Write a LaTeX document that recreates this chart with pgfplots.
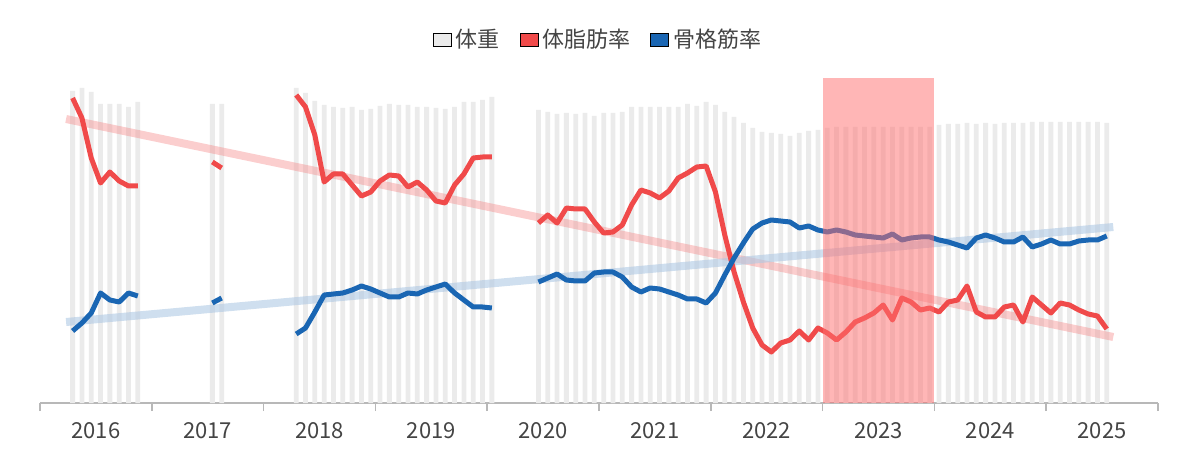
\documentclass[border=0pt]{standalone}
\usepackage{pgfplots}
\pgfplotsset{compat=1.18}
\usepackage{fontspec}
\setmainfont{Noto Sans CJK JP}
\definecolor{rd}{HTML}{F04A4A}
\definecolor{bl}{HTML}{1A66B3}
\definecolor{gb}{HTML}{EBEBEB}
\definecolor{tx}{HTML}{444444}
\definecolor{hl}{HTML}{FF6E6E}
\begin{document}
\begin{tikzpicture}
\useasboundingbox (-20pt,-34pt) rectangle (580pt,201.5pt);
\begin{axis}[scale only axis, width=559pt, height=162.5pt,
  xmin=-0.5, xmax=119.5, ymin=0, ymax=325,
  axis y line=none, axis x line*=bottom,
  x axis line style={draw=black!28, line width=0.8pt, -},
  ytick={108.33,216.67,325}, ymajorgrids, yticklabels={},
  grid style={draw=black!13, line width=0.7pt},
  xtick={-0.5,11.5,...,119.5}, xticklabels={},
  major tick length=4pt, tick style={draw=black!28, line width=0.8pt},
  xtick pos=bottom, tick align=outside,
  extra x ticks={5.5,17.5,...,113.5},
  extra x tick labels={2016,2017,2018,2019,2020,2021,2022,2023,2024,2025},
  extra x tick style={major tick length=0pt, ticklabel style={font=\fontsize{11}{13}\selectfont, text=tx, yshift=-6pt}},
  legend columns=3,
  legend style={at={(0.5,1.117)}, anchor=center, draw=none, font=\fontsize{11}{13}\selectfont, text=tx, /tikz/every even column/.append style={column sep=8pt}},
  legend image code/.code={\fill[#1] (0pt,-3.2pt) rectangle (9pt,3.2pt);},
  clip=false]
\addlegendimage{fill=gb}
\addlegendimage{fill=rd}
\addlegendimage{fill=bl}
\addplot[ybar, bar width=2.4pt, fill=gb, draw=none, forget plot] coordinates {
(3,312)(4,315)(5,311)(6,299)(7,299)(8,299)(9,296)(10,301)
(18,299)(19,299)
(27,315)(28,310)(29,302)(30,298)(31,296)(32,295)(33,296)(34,293)(35,294)(36,297)(37,299)(38,298)(39,298)(40,296)(41,296)(42,295)(43,294)(44,296)(45,301)(46,301)(47,303)(48,306)
(53,293)(54,291)(55,289)(56,290)(57,289)(58,290)(59,287)(60,290)(61,290)(62,291)(63,296)(64,296)(65,296)(66,296)(67,296)(68,296)(69,299)(70,297)(71,301)(72,298)(73,291)(74,286)(75,280)(76,275)(77,271)(78,270)(79,269)(80,267)(81,270)(82,272)(83,273)(84,275)
(85,276)(86,276)(87,276)(88,276)(89,276)(90,276)(91,276)(92,276)(93,276)(94,276)(95,276)
(96,278)(97,279)(98,279)(99,280)(100,279)(101,280)(102,279)(103,280)(104,280)(105,280)(106,281)(107,281)(108,281)(109,281)(110,281)(111,281)(112,281)(113,281)(114,280)};
\addplot[rd!60, opacity=0.45, line width=4pt, forget plot] coordinates {(2.3,284)(114.7,66)};
\addplot[bl!35, opacity=0.6, line width=4pt, forget plot] coordinates {(2.3,81)(114.7,176)};
\pgfplotsset{rl/.style={rd, line width=2.5pt, line join=round, forget plot}, bll/.style={bl, line width=2.5pt, line join=round, forget plot}}
\addplot[rl] coordinates {(3,305)(4,285)(5,245)(6,220)(7,231)(8,222)(9,217)(10,217)};
\addplot[rl] coordinates {(18,241)(19,235)};
\addplot[rl] coordinates {(27,308)(28,296)(29,268)(30,221)(31,229)(32,229)(33,218)(34,207)(35,211)(36,222)(37,228)(38,227)(39,216)(40,221)(41,213)(42,202)(43,200)(44,218)(45,229)(46,245)(47,246)(48,246)};
\addplot[rl] coordinates {(53,180)(54,188)(55,180)(56,195)(57,194)(58,194)(59,181)(60,170)(61,171)(62,178)(63,198)(64,213)(65,210)(66,205)(67,212)(68,225)(69,230)(70,236)(71,237)(72,211)(73,168)(74,131)(75,101)(76,75)(77,58)(78,51)(79,60)(80,63)(81,72)(82,63)(83,75)(84,70)
(85,63)(86,71)(87,81)(88,85)(89,90)(90,98)(91,83)(92,105)(93,101)(94,93)(95,95)(96,91)(97,101)(98,103)(99,117)(100,91)(101,86)(102,86)(103,96)(104,98)(105,81)(106,106)(107,98)(108,90)(109,100)(110,98)(111,93)(112,89)(113,87)(114,74)};
\addplot[bll] coordinates {(3,72)(4,80)(5,90)(6,110)(7,103)(8,101)(9,110)(10,107)};
\addplot[bll] coordinates {(18,100)(19,105)};
\addplot[bll] coordinates {(27,69)(28,75)(29,91)(30,108)(31,109)(32,110)(33,113)(34,117)(35,114)(36,110)(37,106)(38,106)(39,110)(40,109)(41,113)(42,116)(43,119)(44,110)(45,103)(46,96)(47,96)(48,95)};
\addplot[bll] coordinates {(53,121)(54,125)(55,129)(56,123)(57,122)(58,122)(59,130)(60,131)(61,131)(62,126)(63,116)(64,111)(65,115)(66,114)(67,111)(68,108)(69,104)(70,104)(71,100)(72,110)(73,128)(74,145)(75,160)(76,174)(77,180)(78,183)(79,182)(80,181)(81,175)(82,177)(83,173)(84,171)
(85,173)(86,171)(87,168)(88,167)(89,166)(90,165)(91,169)(92,163)(93,165)(94,166)(95,166)(96,163)(97,161)(98,158)(99,155)(100,165)(101,168)(102,165)(103,161)(104,161)(105,166)(106,156)(107,159)(108,163)(109,159)(110,159)(111,162)(112,163)(113,163)(114,167)};
\fill[hl, opacity=0.5] (axis cs:83.5,0) rectangle (axis cs:95.5,325);
\legend{体重,体脂肪率,骨格筋率}
\end{axis}
\end{tikzpicture}
\end{document}
